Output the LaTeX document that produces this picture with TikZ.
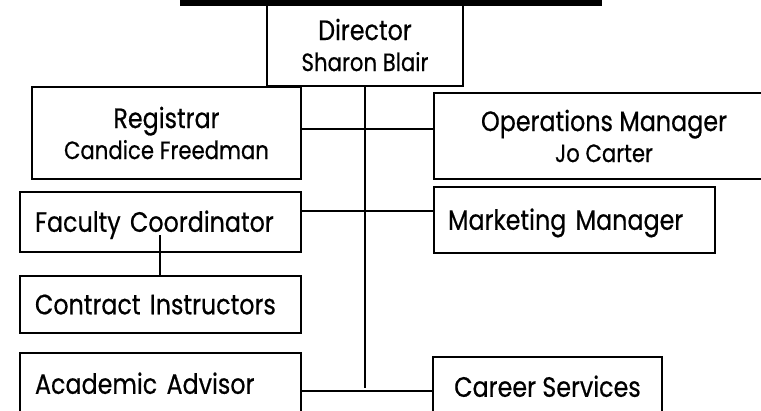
\documentclass[tikz,border=0pt]{standalone}
\usepackage{fontspec}
\setmainfont{Poppins}[FakeStretch=0.85,FakeBold=0.5]
\newcommand{\subname}[1]{{\fontsize{25}{31}\selectfont #1}}
\begin{document}
\begin{tikzpicture}[x=1pt,y=-1pt,
  box/.style={draw, line width=2.6pt, inner sep=0pt, align=center,
              font=\fontsize{28}{31}\selectfont},
  single/.style={box, text height=19.6pt, text depth=0pt},
  leftpad/.style={align=left, inner xsep=15pt, text width=#1},
  conn/.style={line width=1.3pt}]
\useasboundingbox (0,0) rectangle (761,410);
\clip (0,0) rectangle (761,410);
% top bar
\node[fill=black, inner sep=0pt, minimum width=422pt, minimum height=12pt] (bar) at (391,0) {};
% boxes
\node[box, minimum width=196pt, minimum height=82pt] (dir) at (365,45) {Director\\\subname{Sharon Blair}};
\node[box, minimum width=269pt, minimum height=92pt] (reg) at (166.5,133) {Registrar\\\subname{Candice Freedman}};
\node[box, minimum width=340pt, minimum height=86pt] (ops) at (604,136) {Operations Manager\\\subname{Jo Carter}};
\node[single, leftpad=253pt, inner xsep=14pt, minimum height=66pt] (mkt) at (574.5,220) {Marketing Manager};
\node[single, leftpad=251pt, minimum height=60pt] (fac) at (160.5,222) {Faculty Coordinator};
\node[single, leftpad=251pt, minimum height=57pt] (con) at (160.5,304.5) {Contract Instructors};
\node[single, leftpad=251pt, minimum height=62pt] (aca) at (160.5,384) {Academic Advisor};
\node[single, minimum width=229pt, minimum height=60pt] (car) at (547.5,387) {Career Services};
% connectors
\coordinate (trunkend) at (365,388);
\coordinate (j1) at (365,129);
\coordinate (j2) at (365,211);
\coordinate (j3) at (365,391);
\coordinate (facin) at (160,235);
\draw[conn] (dir.south) -- (trunkend);
\draw[conn] (reg.east |- j1) -- (ops.west |- j1);
\draw[conn] (fac.east |- j2) -- (mkt.west |- j2);
\draw[conn] (aca.east |- j3) -- (car.west |- j3);
\draw[conn] (facin) -- (con.north -| facin);
\end{tikzpicture}
\end{document}
